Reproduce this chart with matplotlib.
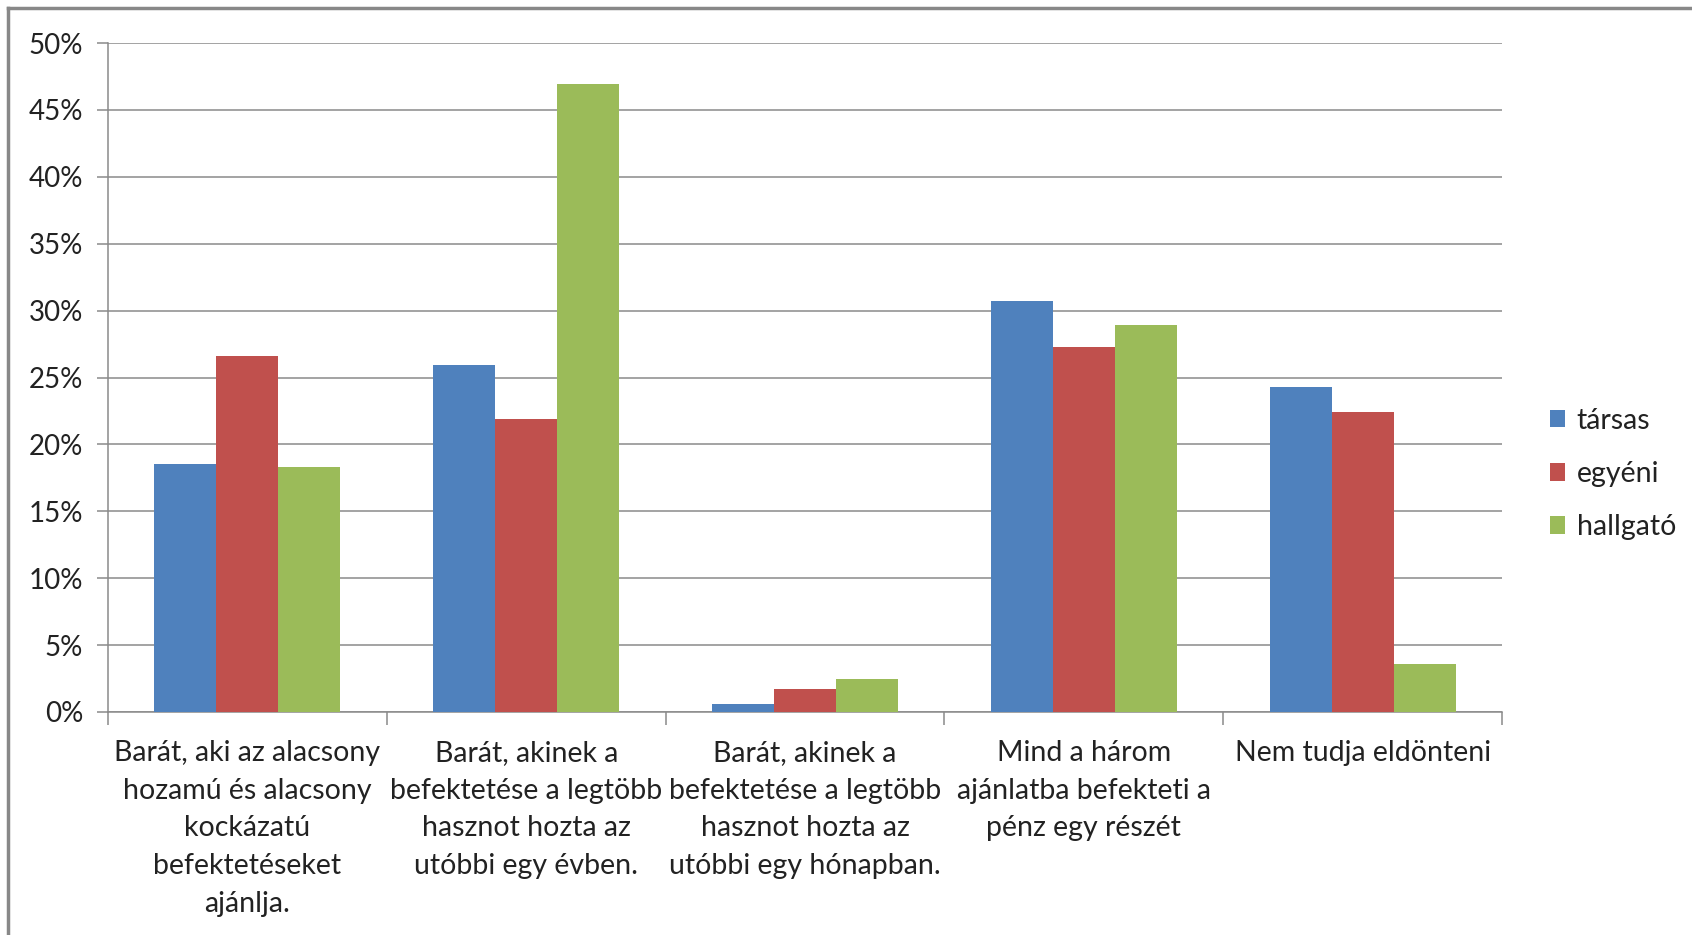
import numpy as np
import matplotlib
matplotlib.use('Agg')
import matplotlib.pyplot as plt
import matplotlib.ticker as ticker
from matplotlib.lines import Line2D

plt.rcParams['font.family'] = ['Lato', 'DejaVu Sans']

# adatok
categories = ['Barát, aki az alacsony\nhozamú és alacsony\nkockázatú\nbefektetéseket\najánlja.',
              'Barát, akinek a\nbefektetése a legtöbb\nhasznot hozta az\nutóbbi egy évben.',
              'Barát, akinek a\nbefektetése a legtöbb\nhasznot hozta az\nutóbbi egy hónapban.',
              'Mind a három\najánlatba befekteti a\npénz egy részét',
              'Nem tudja eldönteni']
tarsas = [18.5, 25.9, 0.6, 30.7, 24.3]
egyeni = [26.6, 21.9, 1.7, 27.3, 22.4]
hallgato = [18.3, 46.9, 2.5, 28.9, 3.6]
series_names = ['társas', 'egyéni', 'hallgató']
colors = ['#4F81BD', '#C0504D', '#9BBB59']
yticks = [0, 5, 10, 15, 20, 25, 30, 35, 40, 45, 50]

fig = plt.figure(figsize=(16.92, 9.35), dpi=100)
ax = fig.add_axes([108/1692, 1-712/935, (1502-108)/1692, (712-43)/935])

x = np.arange(len(categories))
width = 1/4.5
for i, (vals, name) in enumerate(zip([tarsas, egyeni, hallgato], series_names)):
     ax.bar(x + (i-1)*width, vals, width, color=colors[i], label=name, zorder=3)

gray = '#8a8a8a'
ax.set_xlim(-0.5, len(categories)-0.5)
ax.set_ylim(0, 50)
ax.set_yticks(yticks)
ax.set_yticklabels(['%d%%' % v for v in yticks])
ax.yaxis.grid(True, color=gray, linewidth=1.1, zorder=0)

ax.set_xticks(x)
ax.set_xticklabels(categories, fontsize=20.5, color='#222222', linespacing=1.56)
ax.xaxis.set_minor_locator(ticker.FixedLocator(np.arange(-0.5, len(categories), 1)))
ax.tick_params(axis='x', which='major', length=0, pad=20)
ax.tick_params(axis='x', which='minor', length=9, width=1.1, color=gray)
ax.tick_params(axis='y', length=8, width=1.1, color=gray, labelsize=20,
               labelcolor='#222222', pad=10)

for s in ['top', 'right']:
     ax.spines[s].set_visible(False)
for s in ['left', 'bottom']:
     ax.spines[s].set_color(gray)
     ax.spines[s].set_linewidth(1.1)

leg = ax.legend(loc='center left', bbox_to_anchor=(1524/1692, 1-474/935),
                bbox_transform=fig.transFigure, frameon=False, fontsize=20.5,
                handlelength=0.55, handleheight=0.55, handletextpad=0.4,
                labelspacing=0.95)
for t in leg.get_texts():
     t.set_color('#222222')

# keret a kép szélén
fig.add_artist(Line2D([8/1692, 1], [1-8/935, 1-8/935], color='#888888', linewidth=2.5,
                      transform=fig.transFigure))
fig.add_artist(Line2D([8/1692, 8/1692], [0, 1-8/935], color='#888888', linewidth=2.5,
                      transform=fig.transFigure))

plt.savefig('out.png', dpi=100)
